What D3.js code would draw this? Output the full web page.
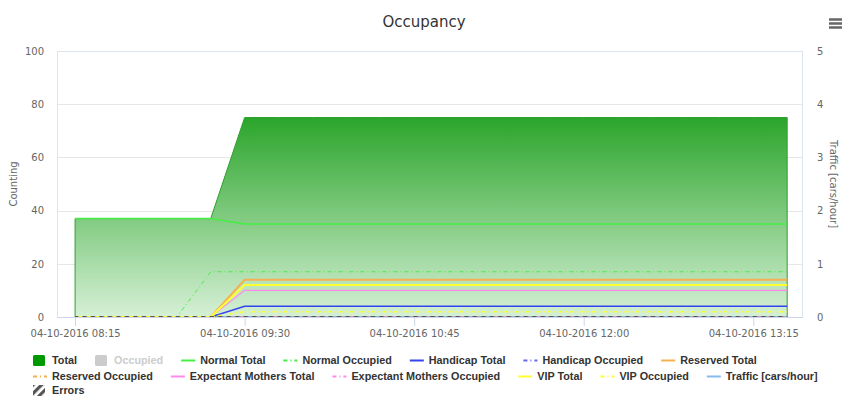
<!DOCTYPE html>
<html>
<head>
<meta charset="utf-8">
<script src="https://cdn.jsdelivr.net/npm/d3@7"></script>
<style>
  body { margin: 0; background: #fff; }
  svg { display: block; }
</style>
</head>
<body>
<svg id="chart" width="842" height="396"></svg>
<script>
// ---- data: one sample every 15 minutes on 04-10-2016 ----
const times = ["08:15","08:30","08:45","09:00","09:15","09:30","09:45","10:00","10:15","10:30","10:45",
               "11:00","11:15","11:30","11:45","12:00","12:15","12:30","12:45","13:00","13:15","13:30"];
const total                    = [37,37,37,37,37,75,75,75,75,75,75,75,75,75,75,75,75,75,75,75,75,75];
const normalTotal              = [37,37,37,37,37,35,35,35,35,35,35,35,35,35,35,35,35,35,35,35,35,35];
const normalOccupied           = [0,0,0,0,17,17,17,17,17,17,17,17,17,17,17,17,17,17,17,17,17,17];
const handicapTotal            = [0,0,0,0,0,4,4,4,4,4,4,4,4,4,4,4,4,4,4,4,4,4];
const handicapOccupied         = [0,0,0,0,0,0,0,0,0,0,0,0,0,0,0,0,0,0,0,0,0,0];
const reservedTotal            = [0,0,0,0,0,14,14,14,14,14,14,14,14,14,14,14,14,14,14,14,14,14];
const reservedOccupied         = [0,0,0,0,0,0,0,0,0,0,0,0,0,0,0,0,0,0,0,0,0,0];
const expectantMothersTotal    = [0,0,0,0,0,10,10,10,10,10,10,10,10,10,10,10,10,10,10,10,10,10];
const expectantMothersOccupied = [0,0,0,0,0,0,0,0,0,0,0,0,0,0,0,0,0,0,0,0,0,0];
const vipTotal                 = [0,0,0,0,0,12,12,12,12,12,12,12,12,12,12,12,12,12,12,12,12,12];
const vipOccupied              = [0,0,0,0,0,2,2,2,2,2,2,2,2,2,2,2,2,2,2,2,2,2];
const traffic                  = [0,0,0,0,0,0,0,0,0,0,0,0,0,0,0,0,0,0,0,0,0,0];
const errors                   = [0,0,0,0,0,0,0,0,0,0,0,0,0,0,0,0,0,0,0,0,0,0];

const xTickTimes    = ["08:15","09:30","10:45","12:00","13:15"];
const countingTicks = [0,20,40,60,80,100];
const trafficTicks  = [0,1,2,3,4,5];

const legendNames = ["Total","Occupied","Normal Total","Normal Occupied","Handicap Total","Handicap Occupied",
  "Reserved Total","Reserved Occupied","Expectant Mothers Total","Expectant Mothers Occupied",
  "VIP Total","VIP Occupied","Traffic [cars/hour]","Errors"];

// ---- styles ----
const DASHDOT = "4,3,1,3";
const style = {
  "Total":                      {kind: "area",  color: "#009900"},
  "Occupied":                   {kind: "area",  color: "#cccccc", hidden: true},
  "Normal Total":               {kind: "line",  color: "#44ee44", width: 1.5},
  "Normal Occupied":            {kind: "line",  color: "#44ee44", width: 1, dash: DASHDOT},
  "Handicap Total":             {kind: "line",  color: "#3344ee", width: 1.5},
  "Handicap Occupied":          {kind: "line",  color: "#6666ee", width: 1, dash: DASHDOT},
  "Reserved Total":             {kind: "line",  color: "#f5b050", width: 2},
  "Reserved Occupied":          {kind: "line",  color: "#f5b050", width: 1, dash: DASHDOT},
  "Expectant Mothers Total":    {kind: "line",  color: "#ff88ee", width: 1.2},
  "Expectant Mothers Occupied": {kind: "line",  color: "#ff88ee", width: 1, dash: DASHDOT},
  "VIP Total":                  {kind: "line",  color: "#ffff33", width: 2},
  "VIP Occupied":               {kind: "line",  color: "#ffff33", width: 1.5, dash: DASHDOT},
  "Traffic [cars/hour]":        {kind: "line",  color: "#88bbee", width: 1.5},
  "Errors":                     {kind: "hatch", color: "#555555", width: 2}
};

const parse = d3.timeParse("%Y-%m-%d %H:%M");
const t = s => parse("2016-10-04 " + s);

const svg = d3.select("#chart");
const W = 842;
const plot = {left: 57, right: 803, top: 51, bottom: 317};

const x = d3.scaleTime()
  .domain([d3.timeMinute.offset(t("08:15"), -7.5), d3.timeMinute.offset(t("13:30"), 7.5)])
  .range([plot.left, plot.right]);
const yL = d3.scaleLinear().domain([0, 100]).range([plot.bottom, plot.top]);
const yR = d3.scaleLinear().domain([0, 5]).range([plot.bottom, plot.top]);

const axisFont = "DejaVu Sans, Verdana, sans-serif";

// title
svg.append("text").attr("x", W / 2 + 3).attr("y", 27).attr("text-anchor", "middle")
  .attr("font-family", axisFont).attr("font-size", 15).attr("fill", "#333").text("Occupancy");

// menu icon
const menu = svg.append("g").attr("stroke", "#666").attr("stroke-width", 2.5);
[19.5, 23.5, 27.5].forEach(yy => menu.append("line").attr("x1", 829).attr("x2", 842).attr("y1", yy).attr("y2", yy));

// grid (left axis)
svg.append("g")
  .attr("transform", `translate(${plot.left},0)`)
  .call(d3.axisLeft(yL).tickValues(countingTicks).tickSize(-(plot.right - plot.left)).tickFormat(""))
  .call(g => g.select(".domain").remove())
  .call(g => g.selectAll(".tick line").attr("stroke", "#e6e6e6").attr("shape-rendering", "crispEdges"));

// left axis labels
svg.append("g")
  .attr("transform", `translate(${plot.left},0)`)
  .call(d3.axisLeft(yL).tickValues(countingTicks).tickSize(0).tickPadding(13))
  .call(g => g.select(".domain").remove())
  .call(g => g.selectAll("text").attr("font-family", axisFont).attr("font-size", 10).attr("fill", "#666"));

// right axis labels
svg.append("g")
  .attr("transform", `translate(${plot.right},0)`)
  .call(d3.axisRight(yR).tickValues(trafficTicks).tickSize(0).tickPadding(14).tickFormat(d3.format("d")))
  .call(g => g.select(".domain").remove())
  .call(g => g.selectAll("text").attr("font-family", axisFont).attr("font-size", 10).attr("fill", "#666"));

// axis titles
svg.append("text").attr("transform", `translate(17,184) rotate(-90)`).attr("text-anchor", "middle")
  .attr("font-family", axisFont).attr("font-size", 10).attr("fill", "#666").text("Counting");
svg.append("text").attr("transform", `translate(830,184) rotate(90)`).attr("text-anchor", "middle")
  .attr("font-family", axisFont).attr("font-size", 10).attr("fill", "#666").text("Traffic [cars/hour]");

// plot border
svg.append("rect").attr("x", plot.left + 0.5).attr("y", plot.top + 0.5)
  .attr("width", plot.right - plot.left - 1).attr("height", plot.bottom - plot.top)
  .attr("fill", "none").attr("stroke", "#dde4ee").attr("shape-rendering", "crispEdges");

// area gradient for Total, hatch pattern for Errors
const defs = svg.append("defs");
const grad = defs.append("linearGradient").attr("id", "totalFill")
  .attr("x1", 0).attr("y1", 0).attr("x2", 0).attr("y2", 1);
grad.append("stop").attr("offset", "0%").attr("stop-color", "#2ba52b");
grad.append("stop").attr("offset", "100%").attr("stop-color", "#d6f0d6");

const hatch = defs.append("pattern").attr("id", "hatch").attr("patternUnits", "userSpaceOnUse")
  .attr("width", 6).attr("height", 6).attr("patternTransform", "rotate(45)");
hatch.append("rect").attr("width", 3.2).attr("height", 6).attr("fill", style["Errors"].color);

const pts = vals => vals.map((v, i) => ({t: t(times[i]), v}));

const area = d3.area().x(d => x(d.t)).y0(yL(0)).y1(d => yL(d.v));
svg.append("path").datum(pts(total)).attr("d", area)
  .attr("fill", "url(#totalFill)").attr("stroke", "#2ea02e").attr("stroke-width", 1);

// line series
const lineL = d3.line().x(d => x(d.t)).y(d => yL(d.v));
const lineR = d3.line().x(d => x(d.t)).y(d => yR(d.v));
const seriesData = [
  ["Traffic [cars/hour]", traffic, lineR],
  ["Normal Total", normalTotal, lineL],
  ["Normal Occupied", normalOccupied, lineL],
  ["Handicap Total", handicapTotal, lineL],
  ["Handicap Occupied", handicapOccupied, lineL],
  ["Reserved Total", reservedTotal, lineL],
  ["Reserved Occupied", reservedOccupied, lineL],
  ["Expectant Mothers Total", expectantMothersTotal, lineL],
  ["Expectant Mothers Occupied", expectantMothersOccupied, lineL],
  ["VIP Total", vipTotal, lineL],
  ["VIP Occupied", vipOccupied, lineL]
];
seriesData.forEach(([name, vals, gen]) => {
  const s = style[name];
  svg.append("path").datum(pts(vals)).attr("d", gen)
    .attr("fill", "none").attr("stroke", s.color).attr("stroke-width", s.width)
    .attr("stroke-dasharray", s.dash || null);
});

// Errors: outline stroked with the hatch pattern
svg.append("path").datum(pts(errors)).attr("d", lineL)
  .attr("fill", "none").attr("stroke", "url(#hatch)").attr("stroke-width", style["Errors"].width);

// x axis
const xAxis = svg.append("g").attr("transform", `translate(0,${plot.bottom})`)
  .call(d3.axisBottom(x).tickValues(xTickTimes.map(t)).tickSize(9).tickPadding(4)
    .tickFormat(d3.timeFormat("%d-%m-%Y %H:%M")));
xAxis.select(".domain").attr("stroke", "#ccd6eb").attr("d", `M${plot.left},0.5H${plot.right}`);
xAxis.selectAll(".tick line").attr("stroke", "#ccd6eb");
xAxis.selectAll("text").attr("font-family", axisFont).attr("font-size", 10).attr("fill", "#666");

// legend
const legend = svg.append("g").attr("font-family", "Liberation Sans, Arial, sans-serif")
  .attr("font-size", 10.8).attr("font-weight", "bold");
const rowY = [360.5, 376.5, 390.5];
let lx = 33, row = 0;
const maxRight = 838;
legendNames.forEach(name => {
  const s = style[name];
  const probe = legend.append("text").text(name);
  const tw = probe.node().getComputedTextLength();
  probe.remove();
  if (lx + 19 + tw > maxRight) { row++; lx = 33; }
  const cy = rowY[row];
  const g = legend.append("g");
  if (s.kind === "area") {
    g.append("rect").attr("x", lx).attr("y", cy - 5.5).attr("width", 12).attr("height", 11).attr("rx", 1.5)
      .attr("fill", s.color);
  } else if (s.kind === "hatch") {
    g.append("rect").attr("x", lx).attr("y", cy - 5.5).attr("width", 12).attr("height", 11)
      .attr("fill", "url(#hatch)");
  } else {
    g.append("line").attr("x1", lx).attr("x2", lx + 14).attr("y1", cy).attr("y2", cy)
      .attr("stroke", s.color).attr("stroke-width", 2).attr("stroke-dasharray", s.dash || null);
  }
  g.append("text").attr("x", lx + 19).attr("y", cy + 3.8)
    .attr("fill", s.hidden ? "#cccccc" : "#333333").text(name);
  lx += 19 + tw + 18;
});
</script>
</body>
</html>
